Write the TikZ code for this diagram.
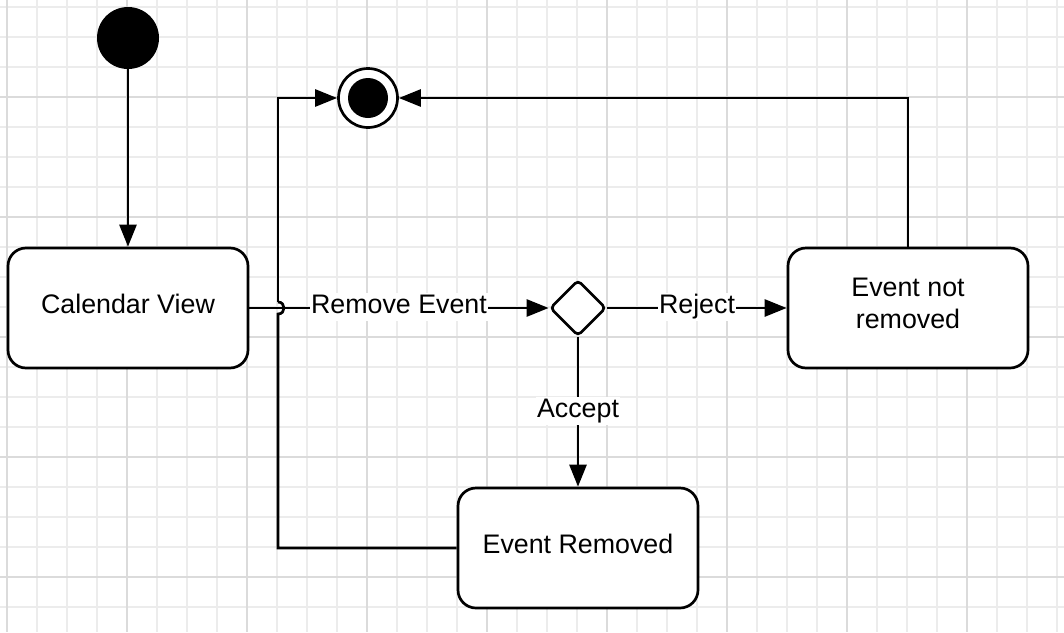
\documentclass[tikz,border=0pt]{standalone}
\usepackage{fontspec}
\setmainfont{Liberation Sans}
\usetikzlibrary{arrows.meta,shapes.geometric}
\begin{document}
\begin{tikzpicture}[x=1pt,y=-1pt,
  txt/.style={font=\fontsize{26.8}{32}\selectfont},
  state/.style={txt,draw,line width=2.7pt,rounded corners=18pt,minimum width=240pt,minimum height=120pt,align=center,inner sep=0pt,fill=white,text depth=9pt},
  conn/.style={line width=2.7pt,-{Triangle[length=22pt,width=17pt]}},
  plain/.style={line width=2.7pt},
  lbl/.style={txt,fill=white,inner sep=1.5pt,text height=19pt,text depth=6pt,yshift=1.5pt},
  minorgrid/.style={gray!15,line width=1.3pt},
  majorgrid/.style={gray!28,line width=1.3pt}
]
\useasboundingbox (0,0) rectangle (1064,632);
\fill[white] (0,0) rectangle (1064,632);
% grid
\foreach \x in {7,37,...,1064} \draw[minorgrid] (\x,0) -- (\x,632);
\foreach \y in {7,37,...,632} \draw[minorgrid] (0,\y) -- (1064,\y);
\foreach \x in {7,127,...,1064} \draw[majorgrid] (\x,0) -- (\x,632);
\foreach \y in {97,217,...,632} \draw[majorgrid] (0,\y) -- (1064,\y);

% nodes
\node[circle,fill=black,minimum size=62pt,inner sep=0pt] (start) at (128,38) {};
\node[circle,draw,line width=2.7pt,fill=white,minimum size=59pt,inner sep=0pt] (end) at (368,98) {};
\node[circle,fill=black,minimum size=40pt,inner sep=0pt] (endin) at (368,98) {};
\node[state] (cv) at (128,308) {Calendar View};
\node[diamond,draw,line width=2.7pt,fill=white,rounded corners=4pt,minimum width=56pt,minimum height=56pt,inner sep=0pt] (dec) at (578,308) {};
\node[state] (enr) at (908,308) {Event not\\removed};
\node[state] (er) at (578,548) {Event Removed};

\coordinate (c1) at (278,548);
\coordinate (j1) at (278,314);
\coordinate (j2) at (278,302);
\coordinate (c2) at (278,98);
\coordinate (c3) at (908,98);

% connectors
\draw[conn] (start) -- (cv);
\draw[conn] (cv) -- node[lbl] {Remove Event} (dec);
\draw[conn] (dec) -- node[lbl] {Reject} (enr);
\draw[conn] (dec) -- node[lbl,pos=0.5] {Accept} (er);
\draw[plain] (er.west) -- (c1) -- (j1) .. controls (286,314) and (286,302) .. (j2);
\draw[conn] (j2) -- (c2) -- (end.west);
\draw[conn] (enr.north) -- (c3) -- (end.east);
\end{tikzpicture}
\end{document}
